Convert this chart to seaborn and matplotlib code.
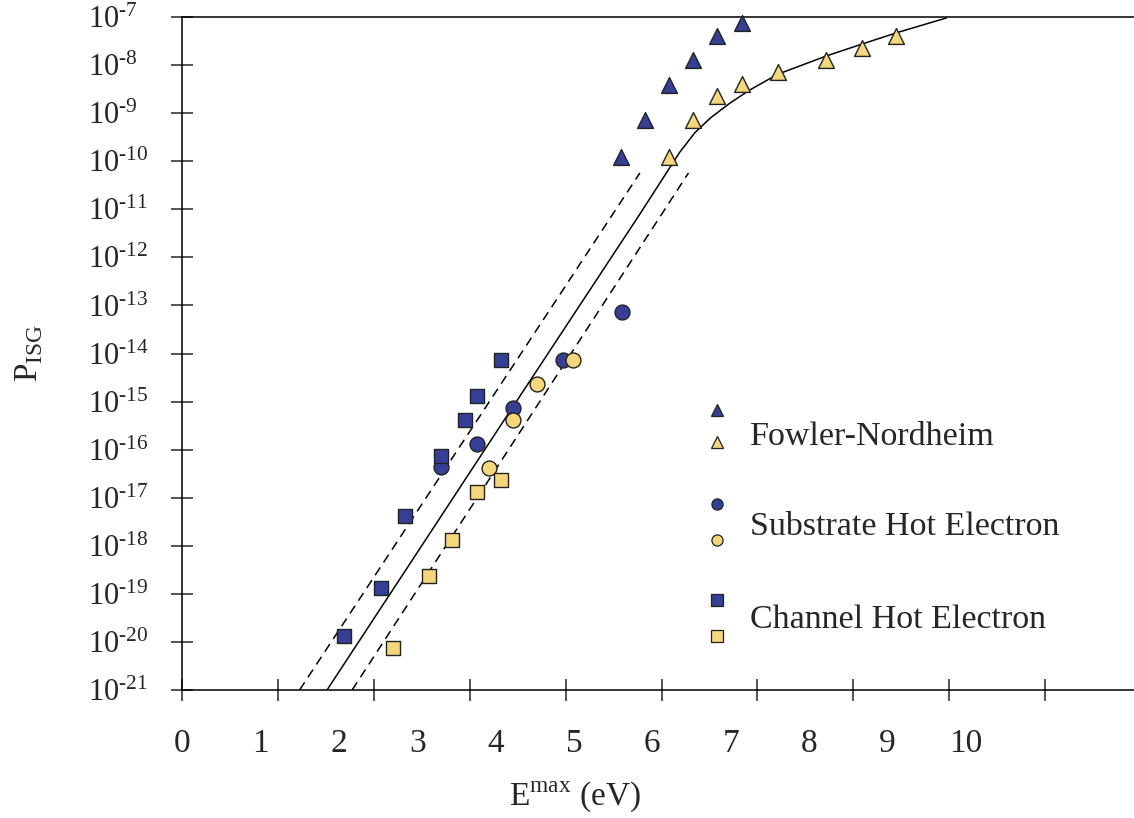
import numpy as np
import pandas as pd
import matplotlib
matplotlib.use('Agg')
import matplotlib.pyplot as plt
from matplotlib.ticker import FixedLocator, NullFormatter
import seaborn as sns

# data: E (eV) and log10(P_ISG)
fn_blue_e = [5.60, 5.91, 6.21, 6.52, 6.83, 7.14]
fn_blue_p = [-9.91, -9.14, -8.41, -7.89, -7.40, -7.12]
fn_yel_e = [6.21, 6.52, 6.83, 7.14, 7.60, 8.21, 8.67, 9.11]
fn_yel_p = [-9.91, -9.14, -8.64, -8.39, -8.14, -7.89, -7.64, -7.40]
she_blue_e = [3.30, 3.76, 4.22, 4.86, 5.61]
she_blue_p = [-16.36, -15.88, -15.13, -14.14, -13.14]
she_yel_e = [3.92, 4.22, 4.53, 4.99]
she_yel_p = [-16.38, -15.38, -14.63, -14.14]
che_blue_e = [2.07, 2.54, 2.84, 3.30, 3.61, 3.76, 4.07]
che_blue_p = [-19.88, -18.88, -17.38, -16.13, -15.38, -14.88, -14.14]
che_yel_e = [2.69, 3.15, 3.45, 3.76, 4.07]
che_yel_p = [-20.13, -18.63, -17.88, -16.88, -16.63]

fit_e = [1.85, 4.22, 5.84, 6.16, 6.35, 6.54, 6.74, 6.99, 7.24, 7.60, 8.22, 8.68, 9.11, 9.75]
fit_p = [-21.0, -15.11, -11.10, -10.29, -9.81, -9.41, -9.10, -8.79, -8.52, -8.19, -7.81, -7.56, -7.33, -7.02]
upper_e = [1.50, 5.84]
upper_p = [-21.0, -10.245]
lower_e = [2.17, 6.46]
lower_p = [-21.0, -10.245]

legend_labels = ['Fowler-Nordheim', 'Substrate Hot Electron', 'Channel Hot Electron']

blue = '#353f96'
yellow = '#f4d67c'

sns.set_style('ticks')
plt.rcParams['font.family'] = ['Liberation Serif', 'DejaVu Serif']
plt.rcParams['mathtext.fontset'] = 'custom'
plt.rcParams['mathtext.rm'] = 'Liberation Serif'

fig = plt.figure(figsize=(11.34, 8.18), dpi=100)
ax = fig.add_axes([182 / 1134, 128 / 818, 952 / 1134, 673 / 818])

# fitted curve and bounds
sns.lineplot(x=fit_e, y=10.0 ** np.array(fit_p), sort=False, color='black', lw=1.1, ax=ax)
sns.lineplot(x=upper_e, y=10.0 ** np.array(upper_p), sort=False, color='black', lw=1.1, ax=ax,
             linestyle=(0, (6, 4)))
sns.lineplot(x=lower_e, y=10.0 ** np.array(lower_p), sort=False, color='black', lw=1.1, ax=ax,
             linestyle=(0, (6, 4)))

series = [
    (fn_blue_e, fn_blue_p, blue, '^', 130),
    (fn_yel_e, fn_yel_p, yellow, '^', 130),
    (she_blue_e, she_blue_p, blue, 'o', 115),
    (she_yel_e, she_yel_p, yellow, 'o', 115),
    (che_blue_e, che_blue_p, blue, 's', 110),
    (che_yel_e, che_yel_p, yellow, 's', 110),
]
for e, p, c, m, s in series:
    sns.scatterplot(x=e, y=10.0 ** np.array(p), color=c, marker=m, s=s,
                    edgecolor='#222222', linewidth=1.0, ax=ax, zorder=3, clip_on=False)

ax.set_yscale('log')
ax.set_ylim(1e-21, 1e-7)
ax.set_xlim(0, 952 / 78.4)

yt = [10.0 ** k for k in range(-21, -6)]
ax.yaxis.set_major_locator(FixedLocator(yt))
ax.yaxis.set_minor_locator(FixedLocator([]))
ax.set_yticklabels([r'$\mathregular{10^{\text{%d}}}$' % k for k in range(-21, -6)])
ax.tick_params(axis='y', which='major', direction='inout', length=16, width=1.1,
               labelsize=22, pad=60)
for lbl in ax.get_yticklabels():
    lbl.set_horizontalalignment('left')

# tick marks and tick labels sit at different spacings in the original
ax.xaxis.remove_overlapping_locs = False
ax.xaxis.set_major_locator(FixedLocator(np.arange(10) * 95.9 / 78.4))
ax.xaxis.set_major_formatter(NullFormatter())
ax.xaxis.set_minor_locator(FixedLocator(range(11)))
ax.set_xticklabels([str(k) for k in range(11)], minor=True)
ax.tick_params(axis='x', which='major', direction='inout', length=16, width=1.1)
ax.tick_params(axis='x', which='minor', length=0, labelsize=24, pad=28)

for side in ['left', 'bottom', 'top']:
    ax.spines[side].set_linewidth(1.1)
    ax.spines[side].set_color('black')
ax.spines['right'].set_visible(False)

ax.set_xlabel(r'E$^{\mathregular{max}}$ (eV)', fontsize=24, va='center')
ax.xaxis.set_label_coords(0.413, -0.158)
ax.set_ylabel(r'P$_{\mathregular{ISG}}$', fontsize=24, va='center')
ax.yaxis.set_label_coords(-0.161, 0.5)

# hand-made legend: two markers stacked with the label between them
leg_y = [(0.416, 0.368, 0.377), (0.276, 0.223, 0.242), (0.134, 0.080, 0.104)]
leg_m = ['^', 'o', 's']
for (yb, yy, yt_), m, lab in zip(leg_y, leg_m, legend_labels):
    ax.plot([0.562], [yb], marker=m, ms=8, color=blue, mec='#222222', mew=0.9,
            transform=ax.transAxes, linestyle='none')
    ax.plot([0.562], [yy], marker=m, ms=8, color=yellow, mec='#222222', mew=0.9,
            transform=ax.transAxes, linestyle='none')
    ax.text(0.597, yt_, lab, transform=ax.transAxes, fontsize=24.5, va='center', ha='left')

fig.savefig('out.png', dpi=100)
